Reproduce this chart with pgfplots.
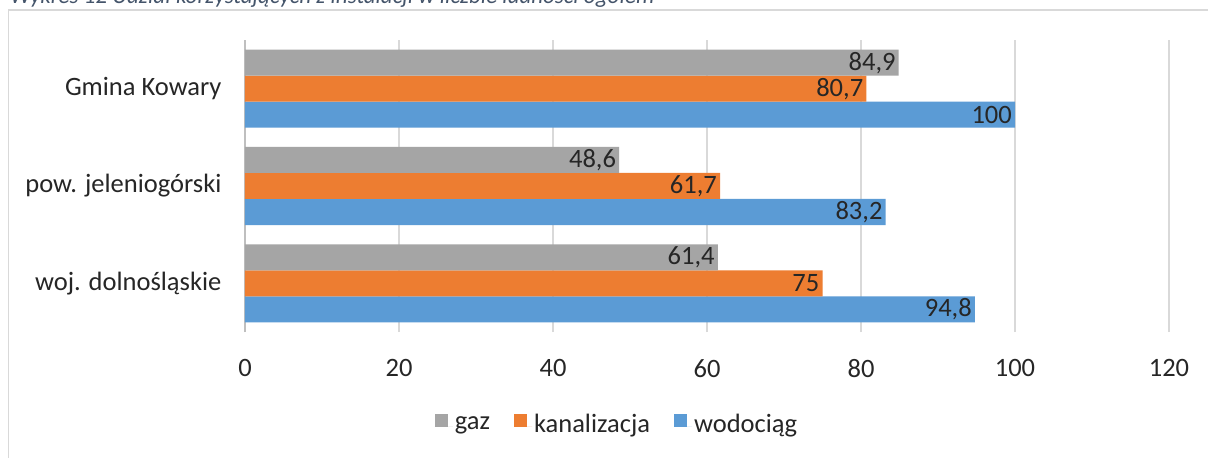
\documentclass[border=0pt]{standalone}
\usepackage{pgfplots}
\pgfplotsset{compat=1.18}
\usepackage{fontspec}
\setmainfont{Carlito}
\definecolor{cgaz}{HTML}{A5A5A5}
\definecolor{ckan}{HTML}{ED7D31}
\definecolor{cwod}{HTML}{5B9BD5}
\definecolor{cgrid}{HTML}{D9D9D9}
\definecolor{ctxt}{HTML}{262626}
\definecolor{ctitle}{HTML}{44546A}
\begin{document}
\begin{tikzpicture}
\useasboundingbox (0pt,0pt) rectangle (1208pt,458pt);
\clip (0pt,0pt) rectangle (1208pt,458pt);
\fill[white] (0pt,0pt) rectangle (1208pt,458pt);
\node[anchor=base west, inner sep=0pt, text=ctitle, font=\fontsize{23}{27}\selectfont\itshape] at (10pt,454pt) {Wykres 12 Udział korzystających z instalacji w liczbie ludności ogółem};
\draw[cgrid, line width=1.5pt] (8.5pt,-10pt) rectangle (1220pt,448pt);
\begin{axis}[
  at={(245pt,126pt)}, anchor=south west,
  scale only axis, width=924pt, height=292pt,
  xbar=0pt, bar width=26pt,
  xmin=0, xmax=120, xtick={0,20,...,120},
  ymin=-0.5, ymax=2.5, ytick={0,1,2},
  yticklabels={woj. dolnośląskie, pow. jeleniogórski, Gmina Kowary},
  axis lines*=left,
  x axis line style={draw=none},
  y axis line style={-, draw=black!25, line width=1.2pt},
  major tick length=0pt,
  xmajorgrids, grid style={cgrid, line width=1.5pt},
  tick label style={font=\fontsize{26.5}{31}\selectfont, text=ctxt},
  xticklabel style={yshift=-24pt},
  yticklabel style={xshift=-20pt},
  /pgf/number format/assume math mode=true,
  /pgf/number format/use comma,
  /pgf/number format/fixed,
  /pgf/number format/precision=1,
  nodes near coords,
  every node near coord/.append style={anchor=east, font=\fontsize{26.5}{31}\selectfont, text=ctxt, inner sep=3pt},
  legend style={at={(0.4026,-0.315)}, anchor=center, draw=none, fill=none,
    legend columns=-1, font=\fontsize{26.5}{31}\selectfont, text=ctxt,
    /tikz/every even column/.append style={column sep=22pt}},
  legend image code/.code={\fill[#1] (0pt,-3pt) rectangle (13pt,10pt); \path (0pt,-3pt) -- (18pt,-3pt);},
  reverse legend,
]
\addplot[fill=cwod, draw=none] coordinates {(94.8,0) (83.2,1) (100,2)};
\addplot[fill=ckan, draw=none] coordinates {(75,0) (61.7,1) (80.7,2)};
\addplot[fill=cgaz, draw=none] coordinates {(61.4,0) (48.6,1) (84.9,2)};
\legend{wodociąg, kanalizacja, gaz}
\end{axis}
\end{tikzpicture}
\end{document}
